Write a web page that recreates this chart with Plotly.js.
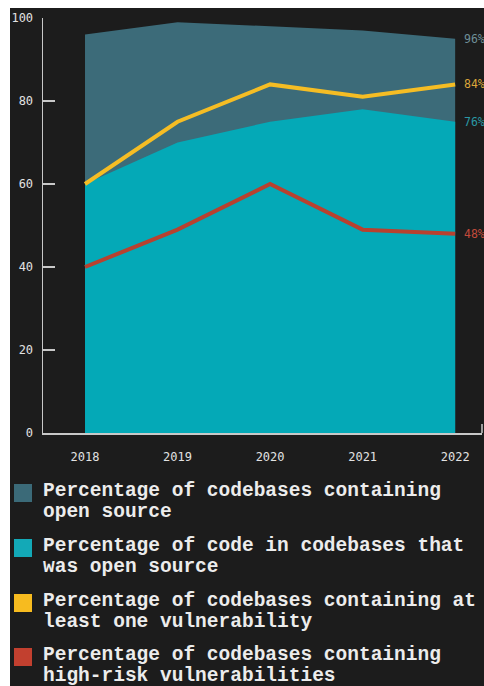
<!DOCTYPE html>
<html>
<head>
<meta charset="utf-8">
<script src="https://cdn.plot.ly/plotly-3.0.1.min.js"></script>
<style>
  html, body { margin: 0; padding: 0; background: #ffffff; }
  #bg { position: absolute; left: 10px; top: 8px; width: 474px; height: 678px; background: #1c1c1c; }
  #chart { position: absolute; left: 0; top: 0; width: 484px; height: 686px; }
</style>
</head>
<body>
<div id="bg"></div>
<div id="chart"></div>
<script>
// ---- data ----
const years = [2018, 2019, 2020, 2021, 2022];
const codebasesWithOpenSource = [96, 99, 98, 97, 95];
const codeThatIsOpenSource = [60, 70, 75, 78, 75];
const codebasesWithVulnerability = [60, 75, 84, 81, 84];
const codebasesWithHighRisk = [40, 49, 60, 49, 48];
const endLabels = ['96%', '76%', '84%', '48%'];
const yTicks = [0, 20, 40, 60, 80, 100];
const legendLabels = [
  ['Percentage of codebases containing', 'open source'],
  ['Percentage of code in codebases that', 'was open source'],
  ['Percentage of codebases containing at', 'least one vulnerability'],
  ['Percentage of codebases containing', 'high-risk vulnerabilities']
];

// ---- styles ----
const colors = ['#3c6b79', '#04a9b7', '#f5bd24', '#b8412f'];
const legendColors = ['#3b6a78', '#13a9b7', '#f7bb1f', '#c2402f'];
const labelColors = ['#6f8f98', '#2a98a4', '#dba53a', '#c34a3b'];
const W = 484, H = 686;
const M = { l: 43, r: 2, t: 18, b: 253 };
const plotW = W - M.l - M.r, plotH = H - M.t - M.b;
const px = x => (x - M.l) / plotW;
const py = y => (H - M.b - y) / plotH;
const tickFont = { family: 'DejaVu Sans Mono, monospace', size: 12, color: '#e2e2e2' };
const labelFont = { family: 'DejaVu Sans Mono, monospace', size: 11.5 };
const legendFont = { family: 'Liberation Mono, monospace', size: 19.5, color: '#ececec', weight: 'bold' };

const traces = [
  { x: years, y: codebasesWithOpenSource, type: 'scatter', mode: 'lines', fill: 'tozeroy',
    fillcolor: colors[0], line: { width: 0, color: colors[0] }, hoverinfo: 'skip' },
  { x: years, y: codeThatIsOpenSource, type: 'scatter', mode: 'lines', fill: 'tozeroy',
    fillcolor: colors[1], line: { width: 0, color: colors[1] }, hoverinfo: 'skip' },
  { x: years, y: codebasesWithVulnerability, type: 'scatter', mode: 'lines',
    line: { width: 4, color: colors[2] } },
  { x: years, y: codebasesWithHighRisk, type: 'scatter', mode: 'lines',
    line: { width: 4, color: colors[3] } }
];

const last = years.length - 1;
const endSeries = [codebasesWithOpenSource, codeThatIsOpenSource, codebasesWithVulnerability, codebasesWithHighRisk];
const annotations = endSeries.map((s, i) => ({
  x: years[last], y: s[last], xref: 'x', yref: 'y', text: endLabels[i],
  xanchor: 'left', yanchor: 'middle', xshift: 7, showarrow: false,
  font: Object.assign({ color: labelColors[i] }, labelFont)
}));

const shapes = [
  // small upturned end of the x axis
  { type: 'line', xref: 'paper', yref: 'paper', x0: px(482), x1: px(482), y0: 0, y1: py(424),
    line: { color: '#c8c8c8', width: 1.5 } }
];

const legendTop = [491, 546, 601, 655];
legendLabels.forEach((lines, i) => {
  lines.forEach((t, j) => {
    annotations.push({
      xref: 'paper', yref: 'paper', x: px(41), y: py(legendTop[i] + j * 20.5),
      xanchor: 'left', yanchor: 'middle', showarrow: false, text: t, font: legendFont
    });
  });
  shapes.push({
    type: 'rect', xref: 'paper', yref: 'paper',
    x0: px(14), x1: px(32), y0: py(legendTop[i] - 7), y1: py(legendTop[i] + 11),
    fillcolor: legendColors[i], line: { width: 0 }
  });
});

const layout = {
  width: W, height: H,
  margin: M,
  paper_bgcolor: 'rgba(0,0,0,0)',
  plot_bgcolor: 'rgba(0,0,0,0)',
  showlegend: false,
  xaxis: {
    range: [2017.546, 2022.29], tickvals: years, ticktext: years.map(String),
    showgrid: false, zeroline: false, showline: true, linecolor: '#c8c8c8', linewidth: 1.5,
    ticks: '', tickfont: tickFont, ticklabelstandoff: 12
  },
  yaxis: {
    range: [0, 100], tickvals: yTicks, showgrid: false, zeroline: false,
    showline: true, linecolor: '#c8c8c8', linewidth: 1.5,
    ticks: 'inside', ticklen: 12, tickwidth: 1.5, tickcolor: '#c8c8c8',
    tickfont: tickFont, ticklabelstandoff: 6
  },
  annotations: annotations,
  shapes: shapes
};

Plotly.newPlot('chart', traces, layout, { displayModeBar: false, staticPlot: true });
</script>
</body>
</html>
